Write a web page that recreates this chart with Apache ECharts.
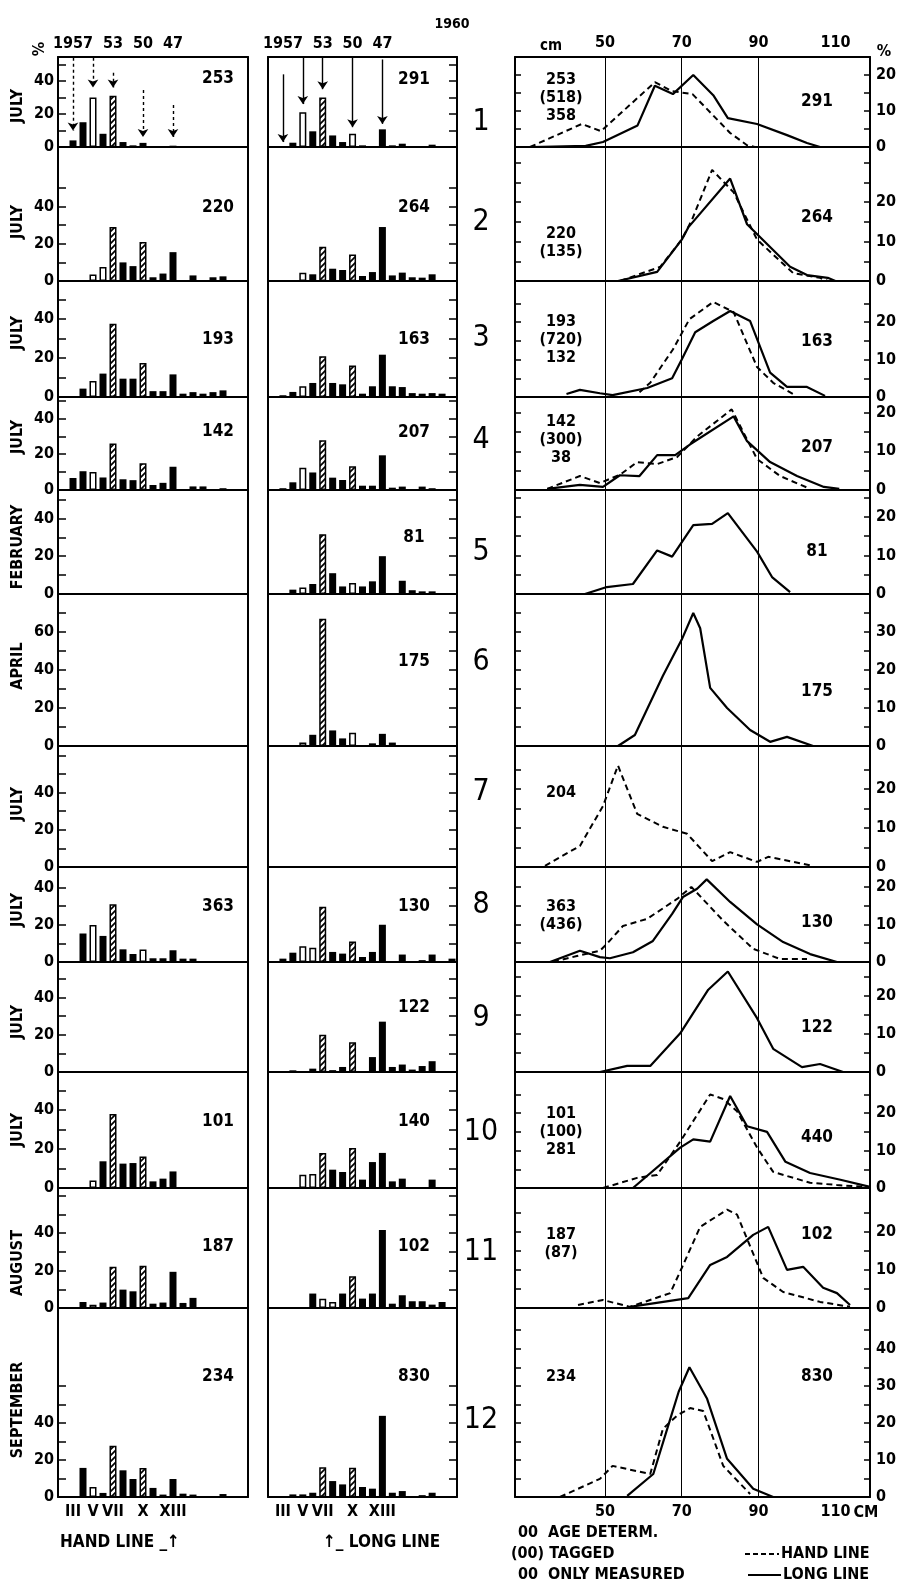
<!DOCTYPE html>
<html>
<head>
<meta charset="utf-8">
<title>1960 age and length composition</title>
<script src="https://cdn.jsdelivr.net/npm/echarts@6/dist/echarts.min.js"></script>
<style>
  html, body { margin: 0; padding: 0; background: #fff; }
  #chart { width: 903px; height: 1589px; }
</style>
</head>
<body>
<div id="chart"></div>
<script>
// ---- data -------------------------------------------------------------
// age classes II..XX (1958 .. 1940 year classes)
const ageCats = ['2','3','4','5','6','7','8','9','10','11','12','13','14','15','16','17','18','19','20']
const ageBottomNames = { 3: 'III', 5: 'V', 7: 'VII', 10: 'X', 13: 'XIII' }
const yearClassNames = { 3: '1957', 7: '53', 10: '50', 13: '47' }

const months = ['JULY','JULY','JULY','JULY','FEBRUARY','APRIL','JULY','JULY','JULY','JULY','AUGUST','SEPTEMBER']

// % per age class, hand line (left column), null = no sample
const handShares = [
  [0,4,15,30,8,31,3,1,2.5,0.5,0,0.8,0,0.5,0,0.5,0,0,0],
  [0,0,0,3.5,7.5,29,10,8,21,2,4,15.5,0.5,3,0.5,2,2.5,0,0],
  [0,0,4.3,8.2,12,37.6,9.4,9.4,17.4,3,3,11.6,1.7,2.5,1.7,2.5,3.4,0,0],
  [0,6.7,10.5,10,7,26,6,5.5,15,2.8,4,13,0,2,2,0,1,0,0],
  null, null, null,
  [0,0,15.3,19.8,14,31,6.8,4.3,6.7,2,2,6.3,1.8,1.8,0,0,0,0,0],
  null,
  [0,0,0,3.8,13.7,38,12.5,12.8,16.2,3.4,4.8,8.5,0,0,0,0,0,0,0],
  [0,0,3.2,1.8,2.9,22,9.8,8.9,22.5,2.3,2.9,19.3,2.7,5.4,0,0,0,0,0],
  [0,0,15.7,5.4,2.2,27.7,14.4,9.7,15.7,4.9,1.3,9.7,1.8,1.3,0,0,1.6,0,0]
]
// % per age class, long line (middle column)
const longShares = [
  [0,0.5,2.6,21,9.5,30,7,3,8,1,0,10.7,1,2,0,0,1.4,0,0],
  [0,0,0,4.5,3.6,18.4,6.6,5.9,14.3,2.7,4.8,29,3,4.5,2,1.8,3.6,0,0],
  [0,0.9,2.6,5.5,7.2,20.9,7.2,6.5,16.2,1.7,5.5,21.7,5.5,5.1,2,1.7,2,1.7,0],
  [0,1,4.3,12.4,9.8,27.8,6.9,5.6,13.3,2.4,2.4,19.4,1.3,1.9,0,1.9,1,0,0],
  [0,0,2.3,3.5,5.3,31.6,11,4,5.8,4,6.7,20,0,7,2,1.4,1.4,0,0],
  [0,0,0,1.8,5.9,67,8.2,4,7,0,1.4,6.4,1.8,0.5,0,0,0,0,0],
  null,
  [0,1.8,5,8.5,7.7,29.7,5.4,4.5,11,2.7,5.4,20,0.4,4,0,1,4,0,1.8],
  [0,0,0.9,0,1.8,20,1,2.7,16,0,8,27,2.7,4,1.3,3.2,5.8,0,0],
  [0,0,0,6.8,7.2,18,9.4,8.2,20.5,4.3,13.3,18,3.4,4.8,0,0,4.3,0,0],
  [0,0,0,0,7.7,5,3.2,7.7,17,5,7.7,41.6,2.3,6.8,3.6,3.6,1.8,3.2,0],
  [0,0,1.4,1.4,2.3,16,8.6,6.8,15.8,5.4,4.5,43.8,2.3,3.2,0,1,2.3,0,0]
]
// bar kind per age class: b = plain, o = open, h = hatched (followed year classes)
const handKinds = [
  'bbbobhbbbbbbbbbbbbb','bbboohbbhbbbbbbbbbb','bbbobhbbhbbbbbbbbbb','bbbobhbbhbbbbbbbbbb',
  null, null, null,
  'bbbobhbbobbbbbbbbbb', null,
  'bbbobhbbhbbbbbbbbbb','bbbobhbbhbbbbbbbbbb','bbbobhbbhbbbbbbbbbb'
]
const longKinds = [
  'bbbobhbbobbbbbbbbbb','bbbobhbbhbbbbbbbbbb','bbbobhbbhbbbbbbbbbb','bbbobhbbhbbbbbbbbbb',
  'bbbobhbbobbbbbbbbbb','bbbobhbbobbbbbbbbbb', null,
  'bbboohbbhbbbbbbbbbb','bbbobhbbhbbbbbbbbbb','bbboohbbhbbbbbbbbbb',
  'bbbbboobhbbbbbbbbbb','bbbobhbbhbbbbbbbbbb'
]
// arrows in the first row: [age, from %, to %]
const handArrows = [[3,54,10],[5,54,36],[7,45,36],[10,34.5,6],[13,25.5,6]]
const longArrows = [[3,44,3],[5,54,26],[7,54,35],[10,54,12],[13,53,14]]

// length distributions [cm, %]
const handLengths = [
  [[30.5,0],[44,6.4],[49,4.4],[63,18],[67.5,15.5],[72.8,14.7],[82.6,3.9],[87,0.5],[89,0]],
  [[54,0],[64.4,3.6],[70,10.5],[72.7,15.6],[77.9,28.2],[83.5,22.5],[89.6,10.5],[99,2],[106,0.8],[108,0]],
  [[59,1.3],[61.8,3.8],[67.7,12.7],[72,20.8],[78.2,25.4],[83.5,22.7],[89.6,8],[93.8,3.8],[99,0.8]],
  [[35,0.3],[43.5,3.6],[48.7,1.8],[54,4],[58.4,7.2],[63.6,6.7],[68.8,8.5],[74,13.8],[83,20.8],[89.6,8],[95.6,3.6],[103.4,0.3]],
  null, null,
  [[34.4,0.3],[43.5,5.4],[49.5,15.6],[53.4,26],[58.4,13.6],[65.1,10.3],[71.4,8.5],[77.9,1.5],[82.6,3.8],[89.6,1.3],[92.5,2.6],[104.2,0.3]],
  [[36.5,0],[42.7,1.6],[48.7,3],[50.5,4.8],[54.7,9.6],[61,11.5],[68.8,16.8],[72.5,20],[80.8,11],[88.6,3.5],[95.6,0.8],[102.6,0.8]],
  null,
  [[49.5,0],[58.4,2.7],[63.6,3.5],[69.6,12.4],[77.4,25],[80.8,23.8],[84.4,20.5],[89.6,10.8],[93.8,4.3],[103.4,1.4],[110.4,0.8],[117.3,0.3]],
  [[43,0.8],[49.5,2.1],[56.5,0.3],[67,3.9],[70,10.5],[74.8,21.3],[81.8,25.8],[84.4,24.5],[91.2,7.9],[96.4,4.2],[106,1.6],[113.8,0.3]],
  [[38.3,0],[48.7,4.9],[52,8.4],[61.8,6.2],[65.1,18.4],[68.8,22],[72.2,24],[75.6,23.2],[80.8,8.4],[87.8,0.8]]
]
const longLengths = [
  [[31,0],[45,0.3],[49.5,1.4],[58.5,6],[63,17],[67.7,14.7],[73,20],[78.2,14.4],[82,8],[89.6,6.4],[97.4,3.3],[102.6,1.1],[106,0]],
  [[53.4,0],[63.6,2.3],[70,10.5],[71.7,13.6],[82.6,26],[87,14.4],[98.2,3.6],[102.6,1.5],[108,0.8],[110,0]],
  [[40,0.8],[43.5,1.9],[48.7,1],[52,0.5],[61,2.4],[67.5,5],[70,10],[73.5,17.3],[78.2,20.3],[82.6,23],[87.8,20.3],[93,6.5],[97.4,2.7],[102.6,2.7],[107.3,0.3]],
  [[35,0.3],[43.5,1.3],[49.5,0.8],[53.9,3.8],[59,3.6],[63.6,9],[68.3,9],[72.2,11.8],[83.5,19],[87,12.6],[93,7.2],[100,3.6],[107,0.8],[111,0.3]],
  [[44.8,0],[50.5,1.8],[57.3,2.6],[63.6,11.3],[67.5,9.7],[73,17.9],[77.9,18.2],[82,21],[89.6,11],[93.5,4.4],[98.2,0.5]],
  [[53.4,0],[57.8,2.9],[65.1,18.5],[70,28],[73,35],[74.8,31],[77.4,15.3],[81.8,10],[87.8,4.2],[93,1.1],[97.4,2.4],[104.2,0]],
  null,
  [[35.7,0],[43.5,3],[48.7,1.3],[51.3,1],[57.3,2.6],[62.5,5.6],[67.5,12.8],[70.3,17.3],[74,19.5],[76.5,22],[82.6,16],[89.6,10],[96.4,5.3],[103.4,2.1],[110.4,0]],
  [[48.7,0],[55.8,1.6],[61.8,1.6],[69.6,10.2],[76.9,21.7],[82,26.5],[89.6,14.2],[93.8,6.1],[101.3,1.3],[106,2.1],[112,0]],
  [[57.3,0],[69.6,10.8],[73,13],[77.4,12.4],[82.6,24.6],[87,16.5],[92.2,15],[97,7],[103.4,4],[111.3,2.2],[119,0.3]],
  [[56.5,0.3],[71.7,2.6],[77.4,11.3],[81.8,13.4],[88.6,19.2],[92.5,21.3],[97.4,10],[101.6,10.8],[106.8,5.3],[110.4,3.9],[113.8,0.8]],
  [[55.8,0.3],[62.6,6.2],[67,21],[69.2,28.4],[72,35],[76.6,26.5],[81.8,10.3],[88.6,2.2],[93.8,0]]
]

// numbers written in the panels
const handCounts = ['253','220','193','142','','','','363','','101','187','234']
const longCounts = ['291','264','163','207','81','175','','130','122','140','102','830']
const lengthNotes = ['253\n(518)\n358','220\n(135)','193\n(720)\n132','142\n(300)\n38','','','204','363\n(436)','','101\n(100)\n281','187\n(87)','234']
const lengthCounts = ['291','264','163','207','81','175','','130','122','440','102','830']

// axis scales and tick labels
const ageMax = [54.5,72,59.5,52,55,80,65,51,59,59.5,64,102]
const ageTickTop = [50,50,50,50,50,70,60,40,50,50,60,60]
const ageLabels = [[0,20,40],[0,20,40],[0,20,40],[0,20,40],[0,20,40],[0,20,40,60],[0,20,40],[0,20,40],[0,20,40],[0,20,40],[0,20,40],[0,20,40]]
const pctMax = [25,34,31,24,27,40,31,25.3,29,31,31.5,51]
const pctLabels = [[0,10,20],[0,10,20],[0,10,20],[0,10,20],[0,10,20],[0,10,20,30],[0,10,20],[0,10,20],[0,10,20],[0,10,20],[0,10,20],[0,10,20,30,40]]
const cmLabels = [50,70,90,110]
const cmLines = [50,70,90]

// ---- layout -----------------------------------------------------------
const rowTop = [57,147,281,397,490,594,746,867,962,1072,1188,1308]
const rowBottom = [147,281,397,490,594,746,867,962,1072,1188,1308,1497]
const cols = [{ left: 58, width: 190 }, { left: 268, width: 189 }, { left: 515, width: 355 }]
const handCountY = [79,208,340,432,0,0,0,907,0,1122,1247,1377]
const longCountY = [80,208,340,433,538,662,0,907,1008,1122,1247,1377]
const noteY = [98,243,340,440,0,0,793,916,0,1132,1244,1377]
const lengthCountY = [102,218,342,448,552,692,0,923,1028,1138,1235,1377]
const rowNumY = [122,222,338,440,552,662,792,905,1018,1132,1252,1420]
const monthY = [106,222,333,437,547,666,804,910,1022,1130,1263,1410]

const FONT = "'DejaVu Sans Condensed','Liberation Sans Narrow','DejaVu Sans',sans-serif"
const BLACK = '#000'

function hatchPattern() {
  const c = document.createElement('canvas')
  c.width = 6; c.height = 6
  const g = c.getContext('2d')
  g.fillStyle = '#fff'; g.fillRect(0, 0, 6, 6)
  g.strokeStyle = BLACK; g.lineWidth = 1.7
  g.beginPath()
  g.moveTo(0, 6); g.lineTo(6, 0)
  g.moveTo(-1, 1); g.lineTo(1, -1)
  g.moveTo(5, 7); g.lineTo(7, 5)
  g.stroke()
  return c
}
const hatch = hatchPattern()
const kindStyle = {
  b: { color: BLACK },
  o: { color: '#fff', borderColor: BLACK, borderWidth: 1.5 },
  h: { color: { image: hatch, repeat: 'repeat' }, borderColor: BLACK, borderWidth: 1.5 }
}

function steps(step, top) {
  const out = []
  for (let v = step; v <= top + 1e-6; v += step) out.push(v)
  return out
}

const labelStyle = { color: BLACK, fontFamily: FONT, fontWeight: 'bold', fontSize: 16 }
const axisLine = { show: true, onZero: false, lineStyle: { color: BLACK, width: 2 } }

const grid = [], xAxis = [], yAxis = [], series = [], graphic = []

for (let r = 0; r < 12; r++) {
  for (let c = 0; c < 3; c++) {
    const gi = r * 3 + c
    grid.push({
      left: cols[c].left, width: cols[c].width,
      top: rowTop[r], height: rowBottom[r] - rowTop[r],
      containLabel: false, outerBoundsMode: 'none'
    })
    const last = r === 11
    if (c < 2) {
      xAxis.push({
        type: 'category', gridIndex: gi, data: ageCats, boundaryGap: true,
        axisLine: axisLine, axisTick: { show: false }, splitLine: { show: false },
        axisLabel: {
          show: last, interval: 0, margin: 7, ...labelStyle,
          formatter: v => ageBottomNames[v] || ''
        }
      })
      const ticks = steps(10, ageTickTop[r])
      yAxis.push({
        type: 'value', gridIndex: gi, position: 'left', min: 0, max: ageMax[r],
        axisLine: axisLine, splitLine: { show: false },
        axisTick: { show: c === 0, inside: true, length: 8, customValues: ticks, lineStyle: { color: BLACK, width: 1.5 } },
        axisLabel: { show: c === 0, margin: 4, customValues: ageLabels[r], ...labelStyle }
      })
      yAxis.push({
        type: 'value', gridIndex: gi, position: 'right', min: 0, max: ageMax[r],
        axisLine: axisLine, splitLine: { show: false },
        axisTick: { show: c === 1, inside: true, length: 8, customValues: ticks, lineStyle: { color: BLACK, width: 1.5 } },
        axisLabel: { show: false }
      })
      const shares = c === 0 ? handShares[r] : longShares[r]
      const kinds = c === 0 ? handKinds[r] : longKinds[r]
      if (shares) {
        const s = {
          type: 'bar', xAxisIndex: gi, yAxisIndex: gi * 2, barWidth: 7,
          data: shares.map((v, i) => v > 0 ? { value: v, itemStyle: kindStyle[kinds[i]] } : '-')
        }
        if (r === 0) {
          const arrows = c === 0 ? handArrows : longArrows
          s.markLine = {
            silent: true, symbol: ['none', 'arrow'], symbolSize: 8, label: { show: false },
            lineStyle: { color: BLACK, width: 1.4, type: c === 0 ? [3, 3] : 'solid' },
            data: arrows.map(a => [{ coord: [a[0] - 2, a[1]] }, { coord: [a[0] - 2, a[2]] }])
          }
        }
        series.push(s)
      }
    } else {
      xAxis.push({
        type: 'value', gridIndex: gi, min: 26.6, max: 119,
        axisLine: axisLine, axisTick: { show: false }, splitLine: { show: false },
        axisLabel: { show: last, margin: 7, customValues: cmLabels, ...labelStyle }
      })
      const ticks = steps(5, pctMax[r] - 2)
      yAxis.push({
        type: 'value', gridIndex: gi, position: 'left', min: 0, max: pctMax[r],
        axisLine: axisLine, splitLine: { show: false },
        axisTick: { show: true, inside: true, length: 6, customValues: ticks, lineStyle: { color: BLACK, width: 1.5 } },
        axisLabel: { show: false }
      })
      yAxis.push({
        type: 'value', gridIndex: gi, position: 'right', min: 0, max: pctMax[r],
        axisLine: axisLine, splitLine: { show: false },
        axisTick: { show: true, inside: true, length: 6, customValues: ticks, lineStyle: { color: BLACK, width: 1.5 } },
        axisLabel: { margin: 6, customValues: pctLabels[r], ...labelStyle }
      })
      const vlines = {
        silent: true, symbol: 'none', label: { show: false },
        lineStyle: { color: BLACK, width: 1, type: 'solid' },
        data: cmLines.map(v => ({ xAxis: v }))
      }
      let first = true
      if (handLengths[r]) {
        series.push({
          type: 'line', xAxisIndex: gi, yAxisIndex: gi * 2, data: handLengths[r],
          symbol: 'none', lineStyle: { color: BLACK, width: 2, type: [6, 4] },
          markLine: vlines
        })
        first = false
      }
      if (longLengths[r]) {
        const s = {
          type: 'line', xAxisIndex: gi, yAxisIndex: gi * 2, data: longLengths[r],
          symbol: 'none', lineStyle: { color: BLACK, width: 2.2 }
        }
        if (first) s.markLine = vlines
        series.push(s)
      }
    }
  }
}

// top axes of the first row
xAxis.push({
  type: 'category', gridIndex: 0, position: 'top', data: ageCats,
  axisLine: axisLine, axisTick: { show: false },
  axisLabel: { interval: 0, margin: 5, ...labelStyle, formatter: v => yearClassNames[v] || '' }
})
xAxis.push({
  type: 'category', gridIndex: 1, position: 'top', data: ageCats,
  axisLine: axisLine, axisTick: { show: false },
  axisLabel: { interval: 0, margin: 5, ...labelStyle, formatter: v => yearClassNames[v] || '' }
})
xAxis.push({
  type: 'value', gridIndex: 2, position: 'top', min: 26.6, max: 119,
  axisLine: axisLine, axisTick: { show: false }, splitLine: { show: false },
  axisLabel: { margin: 6, customValues: cmLabels, ...labelStyle }
})

function txt(text, x, y, opts) {
  graphic.push({
    type: 'text', x: x, y: y, rotation: (opts && opts.rotation) || 0, silent: true,
    style: {
      text: text, fill: BLACK, fontFamily: FONT,
      fontWeight: (opts && opts.weight) || 'bold', fontSize: (opts && opts.size) || 15,
      align: (opts && opts.align) || 'center', verticalAlign: 'middle',
      lineHeight: (opts && opts.lineHeight) || 18
    }
  })
}

for (let r = 0; r < 12; r++) {
  txt(months[r], 18, monthY[r], { rotation: Math.PI / 2, size: 16 })
  if (handCounts[r]) txt(handCounts[r], 218, handCountY[r], { size: 17 })
  if (longCounts[r]) txt(longCounts[r], 414, longCountY[r], { size: 17 })
  if (lengthNotes[r]) txt(lengthNotes[r], 561, noteY[r], { size: 16 })
  if (lengthCounts[r]) txt(lengthCounts[r], 817, lengthCountY[r], { size: 17 })
  txt(String(r + 1), 481, rowNumY[r], { size: 30, weight: 'normal' })
}

txt('1960', 452, 24, { size: 14 })
txt('%', 40, 49, { size: 16, rotation: Math.PI / 2 })
txt('cm', 551, 46, { size: 15 })
txt('%', 884, 52, { size: 16 })
txt('CM', 866, 1513, { size: 16 })
txt('HAND LINE _\u2191', 60, 1543, { size: 17, align: 'left' })
txt('\u2191_ LONG LINE', 323, 1543, { size: 17, align: 'left' })
txt('00  AGE DETERM.', 518, 1533, { size: 16, align: 'left' })
txt('(00) TAGGED', 511, 1554, { size: 16, align: 'left' })
txt('00  ONLY MEASURED', 518, 1575, { size: 16, align: 'left' })
txt('HAND LINE', 781, 1554, { size: 16, align: 'left' })
txt('LONG LINE', 783, 1575, { size: 16, align: 'left' })
graphic.push({
  type: 'line', silent: true, shape: { x1: 745, y1: 1554, x2: 779, y2: 1554 },
  style: { stroke: BLACK, lineWidth: 2, lineDash: [5, 3] }
})
graphic.push({
  type: 'line', silent: true, shape: { x1: 748, y1: 1575, x2: 781, y2: 1575 },
  style: { stroke: BLACK, lineWidth: 2 }
})

const chart = echarts.init(document.getElementById('chart'))
chart.setOption({
  animation: false,
  backgroundColor: '#fff',
  grid: grid,
  xAxis: xAxis,
  yAxis: yAxis,
  series: series,
  graphic: graphic
})
</script>
</body>
</html>
